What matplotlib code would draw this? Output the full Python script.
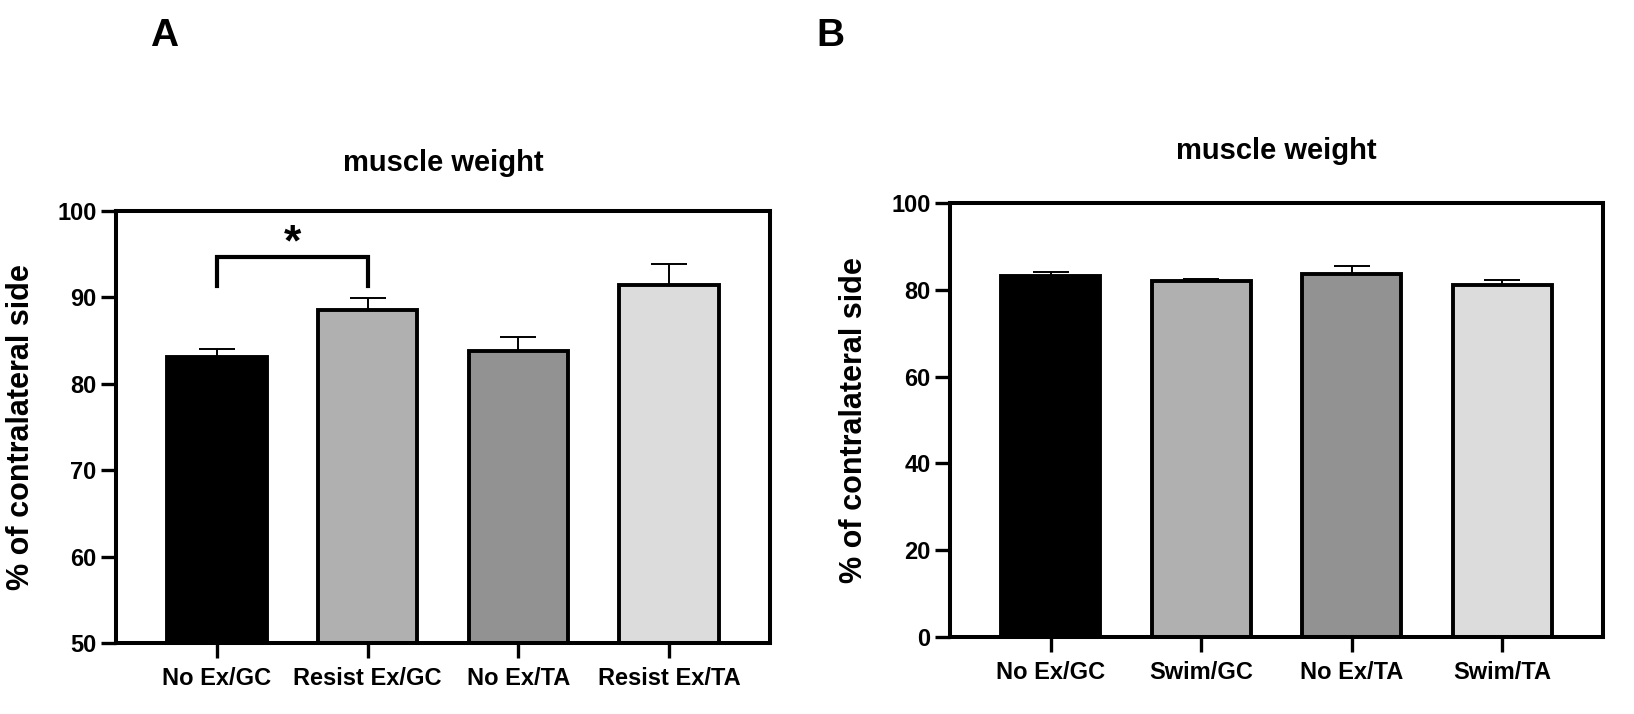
import matplotlib
matplotlib.use('Agg')
import matplotlib.pyplot as plt
import numpy as np

plt.rcParams['font.family'] = ['Liberation Sans', 'DejaVu Sans']
plt.rcParams['font.weight'] = 'bold'

# Panel A: resistance exercise
labels_a = ['No Ex/GC', 'Resist Ex/GC', 'No Ex/TA', 'Resist Ex/TA']
means_a = [83.1, 88.5, 83.8, 91.4]
sem_a = [0.9, 1.45, 1.6, 2.5]

# Panel B: swimming
labels_b = ['No Ex/GC', 'Swim/GC', 'No Ex/TA', 'Swim/TA']
means_b = [83.3, 81.95, 83.7, 81.2]
sem_b = [0.8, 0.65, 1.7, 1.0]

bar_colors = ['#000000', '#b0b0b0', '#929292', '#dcdcdc']


def draw_panel(ax, labels, means, sems, ylim, yticks, title_y):
	x = np.arange(len(labels))
	ax.errorbar(x, means, yerr=[np.zeros(len(sems)), sems], fmt='none',
				ecolor='black', elinewidth=1.4, capsize=13, capthick=1.4, zorder=1)
	ax.bar(x, means, width=0.66, color=bar_colors, edgecolor='black',
		   linewidth=2.8, zorder=2)
	ax.set_xlim(-0.67, len(labels) - 0.33)
	ax.set_ylim(*ylim)
	ax.set_yticks(yticks)
	ax.set_xticks(x)
	ax.set_xticklabels(labels, fontsize=17, fontweight='bold')
	for t in ax.get_yticklabels():
		t.set_fontsize(17)
		t.set_fontweight('bold')
	for sp in ax.spines.values():
		sp.set_linewidth(2.9)
	ax.tick_params(axis='both', length=11, width=2.4, direction='out')
	ax.tick_params(axis='x', pad=6)
	ax.tick_params(axis='y', pad=3)
	ax.set_ylabel('% of contralateral side', fontsize=22, fontweight='bold')
	ax.text(0.5, title_y, 'muscle weight', transform=ax.transAxes, ha='center',
			va='center', fontsize=21, fontweight='bold')


fig = plt.figure(figsize=(16.34, 7.14), dpi=100)
ax1 = fig.add_axes([0.0710, 0.0994, 0.4002, 0.6051])
ax2 = fig.add_axes([0.5814, 0.1078, 0.3996, 0.6078])

draw_panel(ax1, labels_a, means_a, sem_a, (50, 100), [50, 60, 70, 80, 90, 100], 1.11)
draw_panel(ax2, labels_b, means_b, sem_b, (0, 100), [0, 20, 40, 60, 80, 100], 1.12)
ax1.yaxis.set_label_coords(-0.122, 0.5)
ax2.yaxis.set_label_coords(-0.124, 0.5)

# significance bracket, No Ex/GC vs Resist Ex/GC
ax1.plot([0, 0, 1, 1], [91.3, 94.7, 94.7, 91.3], color='black', lw=3,
		 solid_joinstyle='miter', zorder=3)
ax1.text(0.5, 96.2, '*', ha='center', va='center', fontsize=32, fontweight='bold')

fig.text(0.1004, 0.9496, 'A', ha='center', va='center', fontsize=28, fontweight='bold')
fig.text(0.508, 0.9496, 'B', ha='center', va='center', fontsize=28, fontweight='bold')

fig.savefig('out.png', dpi=100)
